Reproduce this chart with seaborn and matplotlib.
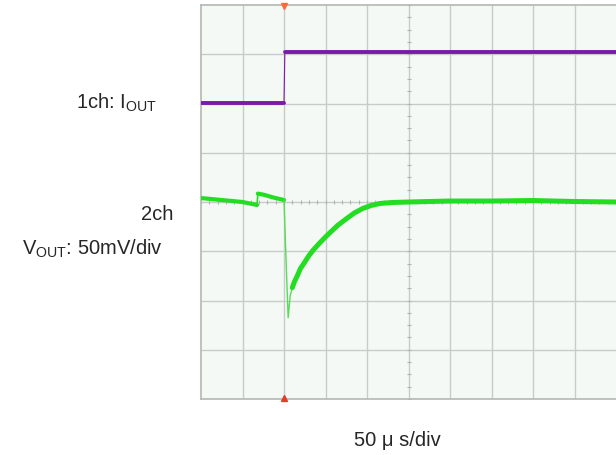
import numpy as np
import pandas as pd
import matplotlib
matplotlib.use("Agg")
import matplotlib.pyplot as plt
import seaborn as sns

# ---- data (in screen divisions: x 0..10, y -4..4) ----
iout_x = [0.0, 2.0, 2.02, 10.0]
iout_y = [2.02, 2.02, 3.05, 3.05]

vout_x = [0.0, 0.5, 1.0, 1.35, 1.37, 1.5, 1.75, 2.0,
          2.2, 2.25, 2.32, 2.39, 2.5, 2.6, 2.7, 2.85, 3.0, 3.11, 3.3, 3.52, 3.7, 3.9,
          4.1, 4.31, 4.6, 5.0, 6.0, 7.0, 8.0, 9.0, 10.0]
vout_y = [0.08, 0.04, 0.0, -0.06, 0.17, 0.15, 0.09, 0.04,
          -1.74, -1.62, -1.5, -1.36, -1.22, -1.09, -0.98, -0.84, -0.71, -0.62, -0.47, -0.33,
          -0.22, -0.13, -0.07, -0.03, -0.01, 0.0, 0.02, 0.02, 0.03, 0.01, 0.0]

spike_x = [2.0, 2.05, 2.1, 2.15, 2.2]
spike_y = [0.04, -1.2, -2.35, -1.9, -1.74]

W, H = 616, 455
fig = plt.figure(figsize=(W / 100, H / 100), dpi=100)
sns.set_style("white")
plt.rcParams['font.family'] = ['Liberation Sans', 'DejaVu Sans']
plt.rcParams['mathtext.fontset'] = 'custom'
plt.rcParams['mathtext.rm'] = 'Liberation Sans'

ax = fig.add_axes([201 / W, 1 - 399 / H, 415 / W, 394 / H])
ax.set_facecolor('#f5f9f5')
ax.set_xlim(0, 10)
ax.set_ylim(-4, 4)

grid_c = '#c8ccc8'
for gx in range(1, 10):
    ax.axvline(gx, color=grid_c, lw=1.0, zorder=1)
for gy in range(-3, 4):
    ax.axhline(gy, color=grid_c, lw=1.0, zorder=1)

# minor ticks on the centre lines
mx = np.arange(0, 10.01, 0.2)
ax.plot(mx, np.zeros_like(mx), ls='none', marker='|', ms=3.5, color='#b0b4b0', mew=0.8, zorder=1)
my = np.arange(-4, 4.01, 0.25)
ax.plot(np.full_like(my, 5.0), my, ls='none', marker='_', ms=3.5, color='#b0b4b0', mew=0.8, zorder=1)

df_i = pd.DataFrame({'x': iout_x, 'y': iout_y})
df_v = pd.DataFrame({'x': vout_x, 'y': vout_y})
df_s = pd.DataFrame({'x': spike_x, 'y': spike_y})

purple = '#7a1aa8'
green = '#22dd22'
sns.lineplot(data=df_i.iloc[:2], x='x', y='y', ax=ax, color=purple, lw=2.8, sort=False, zorder=3)
sns.lineplot(data=df_i.iloc[1:3], x='x', y='y', ax=ax, color=purple, lw=0.8, sort=False, zorder=3)
sns.lineplot(data=df_i.iloc[2:], x='x', y='y', ax=ax, color=purple, lw=2.8, sort=False, zorder=3)

sns.lineplot(data=df_v.iloc[:4], x='x', y='y', ax=ax, color=green, lw=3.0, sort=False, zorder=3)
sns.lineplot(data=df_v.iloc[3:5], x='x', y='y', ax=ax, color=green, lw=1.2, sort=False, zorder=3)
sns.lineplot(data=df_v.iloc[4:8], x='x', y='y', ax=ax, color=green, lw=3.0, sort=False, zorder=3)
sns.lineplot(data=df_s, x='x', y='y', ax=ax, color='#55dd55', lw=1.0, sort=False, zorder=3)
sns.lineplot(data=df_v.iloc[8:], x='x', y='y', ax=ax, color=green, lw=3.6, sort=False, zorder=3)

# trigger markers
ax.plot([2.0], [3.98], marker='v', ms=4, color='#ff6a3a', clip_on=False, zorder=4)
ax.plot([2.0], [-3.98], marker='^', ms=4, color='#e83a2a', clip_on=False, zorder=4)

ax.set_xlabel('')
ax.set_ylabel('')
ax.set_xticks([])
ax.set_yticks([])
for s in ['left', 'top', 'bottom']:
    ax.spines[s].set_color('#b4b8b4')
    ax.spines[s].set_linewidth(1.2)
ax.spines['right'].set_visible(False)

fs = 14.5
fig.text(76 / W, 1 - 103 / H, r'1ch: I$_{\mathregular{OUT}}$', fontsize=fs, va='center', ha='left')
fig.text(173 / W, 1 - 215 / H, '2ch', fontsize=fs, va='center', ha='right')
fig.text(22 / W, 1 - 249 / H, r'V$_{\mathregular{OUT}}$: 50mV/div', fontsize=fs, va='center', ha='left')
fig.text(397 / W, 1 - 441 / H, '50 μ s/div', fontsize=fs, va='center', ha='center')

fig.savefig('out.png', dpi=100)
